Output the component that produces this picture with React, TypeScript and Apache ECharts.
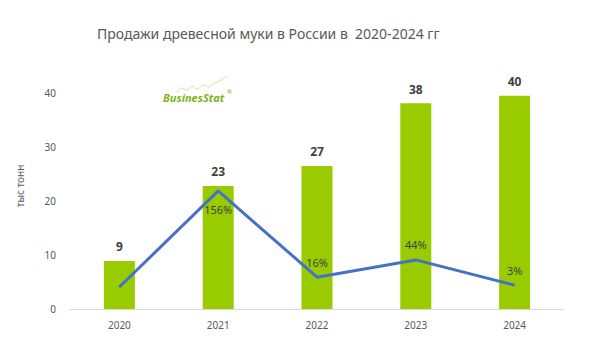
import React, { useEffect, useRef } from "react";
import * as echarts from "echarts";

const categories = ["2020", "2021", "2022", "2023", "2024"];
const salesValues = [8.9, 22.8, 26.5, 38.1, 39.5];
const salesLabels = ["9", "23", "27", "38", "40"];
const growthValues = [0, 156, 16, 44, 3];
const growthLabels = ["", "156%", "16%", "44%", "3%"];

export default function App() {
  const ref = useRef<HTMLDivElement>(null);
  useEffect(() => {
    document.body.style.margin = "0";
    if (!ref.current) return;
    const chart = echarts.init(ref.current, undefined, { renderer: "svg" });
    const lineData = growthValues.map((v, i) => ({
      value: v,
      label: {
        show: growthLabels[i] !== "",
        position: i === 1 ? "bottom" : "top",
        distance: i === 1 ? 13 : 9,
      },
    }));
    chart.setOption({
      animation: false,
      backgroundColor: "#ffffff",
      textStyle: { fontFamily: "Noto Sans" },
      title: {
        text: "Продажи древесной муки в России в  2020-2024 гг",
        left: 92,
        top: 21,
        textStyle: { fontFamily: "Noto Sans", fontSize: 14, fontWeight: "normal", color: "#595959" },
      },
      grid: { left: 70, right: 25, top: 93, bottom: 50, containLabel: false },
      xAxis: {
        type: "category",
        data: categories,
        axisLine: { lineStyle: { color: "#d9d9d9", width: 1 } },
        axisTick: { show: false },
        axisLabel: { color: "#595959", fontSize: 10, margin: 11 },
      },
      yAxis: [
        {
          type: "value",
          min: 0,
          max: 40,
          interval: 10,
          name: "тыс тонн",
          nameLocation: "middle",
          nameRotate: 90,
          nameGap: 45,
          nameTextStyle: { color: "#595959", fontSize: 10, padding: [0, 0, 0, 30] },
          axisLine: { show: false },
          axisTick: { show: false },
          splitLine: { show: false },
          axisLabel: { color: "#595959", fontSize: 10, margin: 14 },
        },
        {
          type: "value",
          min: -35.7,
          max: 315,
          show: false,
          splitLine: { show: false },
        },
      ],
      series: [
        {
          type: "bar",
          data: salesValues,
          barWidth: 31,
          itemStyle: { color: "#99cc00" },
          label: {
            show: true,
            position: "top",
            distance: 8,
            color: "#404040",
            fontSize: 12,
            fontWeight: "bold",
            formatter: (p: any) => salesLabels[p.dataIndex],
          },
        },
        {
          type: "line",
          yAxisIndex: 1,
          data: lineData,
          symbol: "circle",
          symbolSize: 1,
          showSymbol: true,
          itemStyle: { color: "#4472c4" },
          lineStyle: { color: "#4472c4", width: 3 },
          z: 3,
          label: {
            show: true,
            color: "#404040",
            fontSize: 11,
            formatter: (p: any) => growthLabels[p.dataIndex],
          },
        },
      ],
      graphic: [
        {
          type: "polyline",
          shape: {
            points: [
              [176, 92], [182, 88], [187, 90], [192, 86], [197, 89], [203, 85],
              [209, 87], [215, 83], [221, 80], [228, 76],
            ],
            smooth: 0.3,
          },
          style: { stroke: "#c5e08a", lineWidth: 0.8, fill: null },
        },
        {
          type: "text",
          left: 163,
          top: 92,
          style: {
            text: "BusinesStat",
            fill: "#7ab51d",
            font: "italic bold 11px 'Noto Sans'",
          },
        },
        {
          type: "text",
          left: 227,
          top: 89,
          style: { text: "®", fill: "#7ab51d", font: "6px 'Noto Sans'" },
        },
      ],
    });
    return () => chart.dispose();
  }, []);
  return <div ref={ref} style={{ width: 589, height: 359 }} />;
}
